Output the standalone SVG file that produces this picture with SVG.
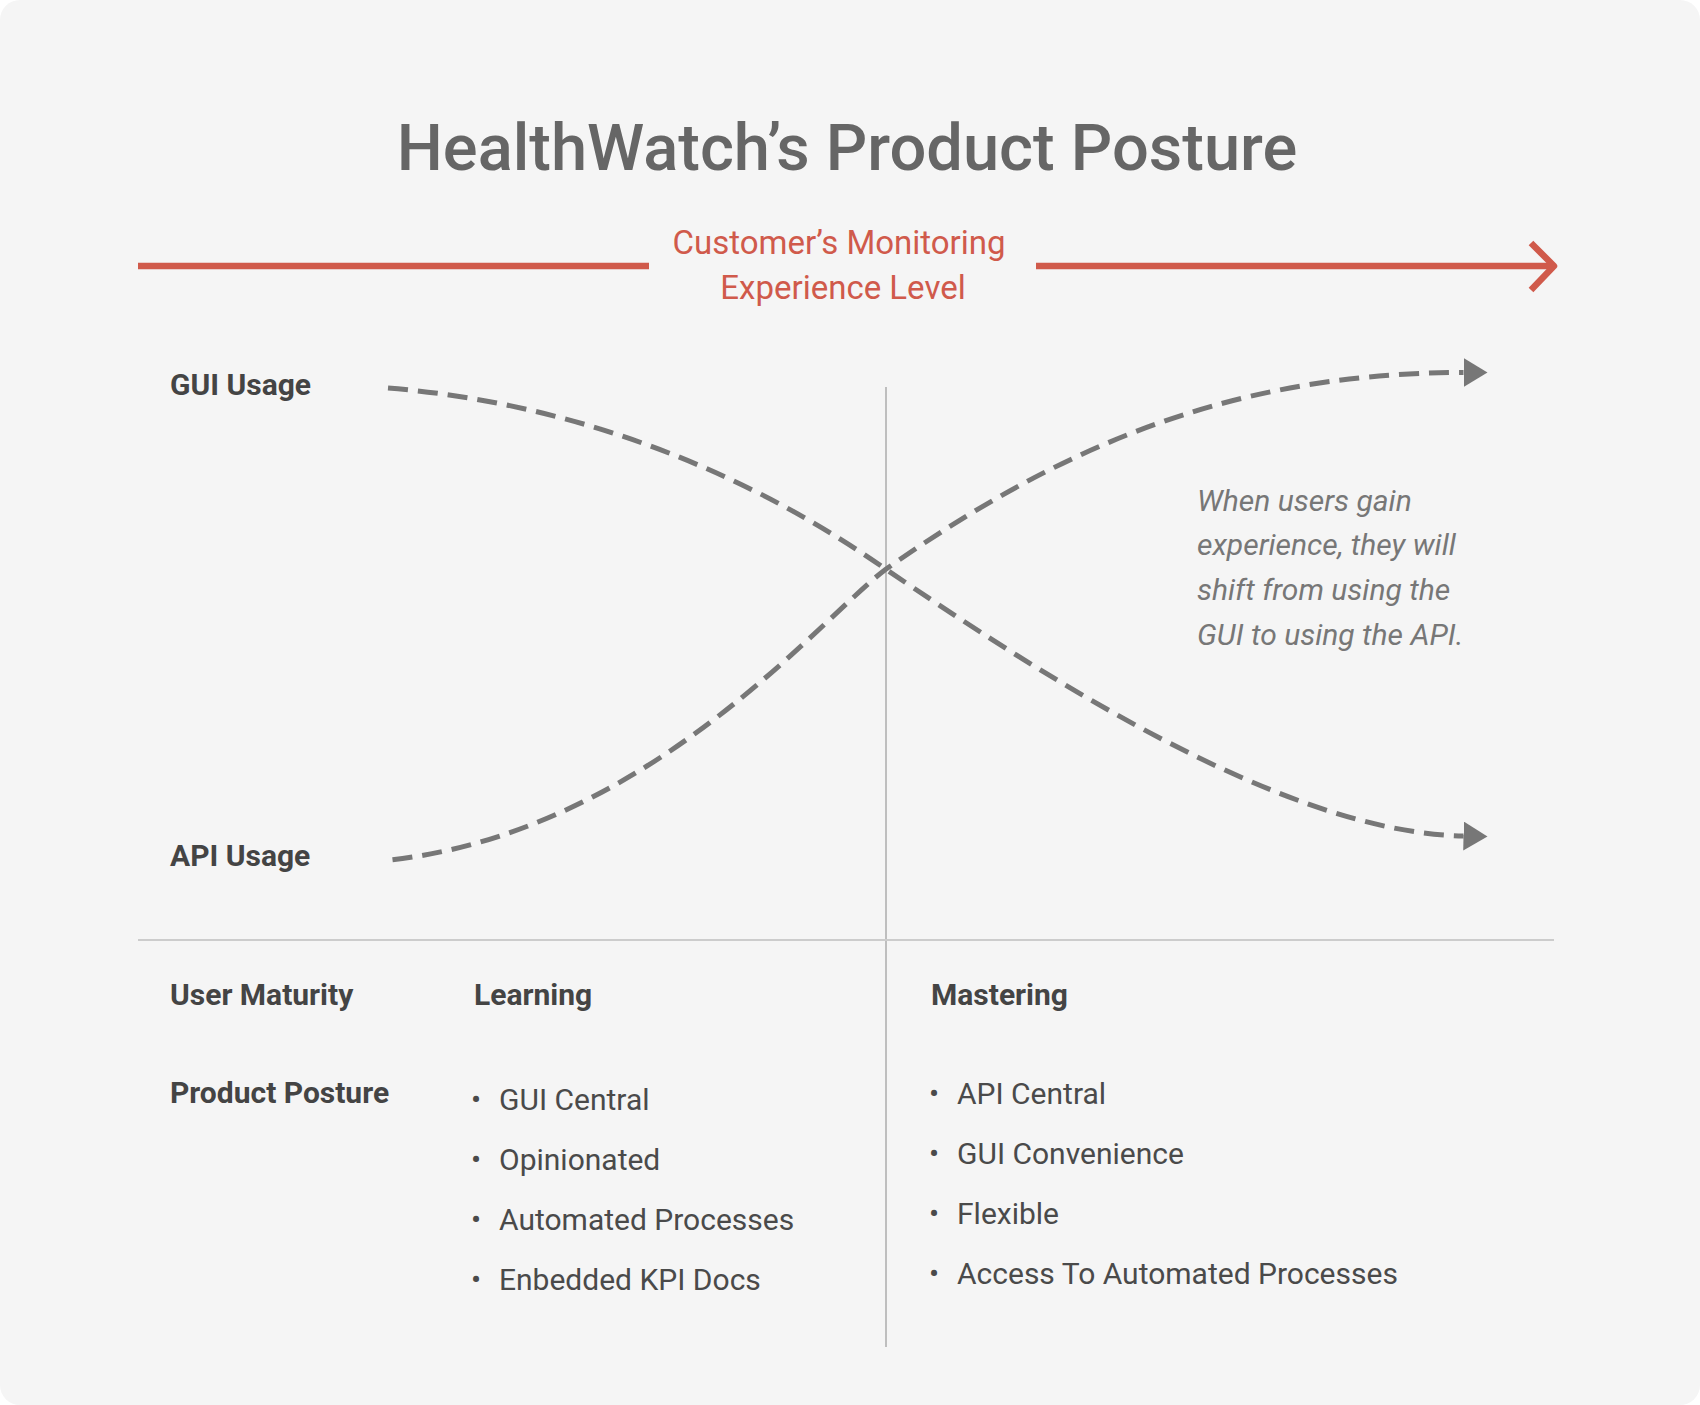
<svg xmlns="http://www.w3.org/2000/svg" width="1700" height="1405" viewBox="0 0 1700 1405">
<defs>
<style>
.title{font-family:Roboto,"Liberation Sans",sans-serif;font-weight:500;font-size:65px;fill:#666;}
.red{font-family:Roboto,"Liberation Sans",sans-serif;font-size:33px;fill:#d05a4b;}
.lbl{font-family:Roboto,"Liberation Sans",sans-serif;font-weight:700;font-size:30px;fill:#444;}
.item{font-family:Roboto,"Liberation Sans",sans-serif;font-size:30px;fill:#4a4a4a;}
.bul{font-family:Roboto,"Liberation Sans",sans-serif;font-size:30px;fill:#4a4a4a;}
.note{font-family:Roboto,"Liberation Sans",sans-serif;font-style:italic;font-size:30px;fill:#777;}
.curve{fill:none;stroke:#777;stroke-width:5;stroke-dasharray:20 10;marker-end:url(#tri);}
.redline{fill:none;stroke:#d05a4b;stroke-width:6.5;stroke-linecap:butt;}
</style>
<marker id="tri" markerUnits="userSpaceOnUse" markerWidth="26" markerHeight="30" refX="0" refY="14.5" orient="auto">
<path d="M0,0 L24,14.5 L0,29 Z" fill="#777"/>
</marker>
</defs>
<rect x="0" y="0" width="1700" height="1405" rx="20" fill="#f5f5f5"/>
<g id="title"><text class="title" x="847" y="170" text-anchor="middle">HealthWatch’s Product Posture</text></g>
<g id="axis">
<line class="redline" x1="138" y1="266" x2="649" y2="266"/>
<line class="redline" x1="1036" y1="266" x2="1553" y2="266"/>
<polyline class="redline" points="1531,243 1554,266 1531,290" stroke-linecap="round" stroke-linejoin="round"/>
<text class="red" x="839" y="254" text-anchor="middle">Customer’s Monitoring</text>
<text class="red" x="843" y="299" text-anchor="middle">Experience Level</text>
</g>
<g id="dividers">
<line x1="886" y1="387" x2="886" y2="1347" stroke="#999" stroke-width="1.2"/>
<line x1="138" y1="940" x2="1554" y2="940" stroke="#ccc" stroke-width="2"/>
</g>
<g id="connectors">
<path id="gui-curve" class="curve" d="M388,388 C574.6,403.3 744.8,470.5 885.8,569.2 C1030,666.8 1279.4,832.7 1463.5,836"/>
<path id="api-curve" class="curve" d="M392.5,859.8 C650.5,829.4 820.7,618 885.8,569.2 C1040.8,460.8 1214.3,372.5 1463.5,372.5"/>
</g>
<g id="gui-usage"><text class="lbl" x="170" y="395">GUI Usage</text></g>
<g id="api-usage"><text class="lbl" x="170" y="866">API Usage</text></g>
<g id="note">
<text class="note" x="1197" y="511">When users gain</text>
<text class="note" x="1197" y="555">experience, they will</text>
<text class="note" x="1197" y="600">shift from using the</text>
<text class="note" x="1197" y="645">GUI to using the API.</text>
</g>
<g id="user-maturity"><text class="lbl" x="170" y="1005">User Maturity</text></g>
<g id="learning"><text class="lbl" x="474" y="1005">Learning</text></g>
<g id="mastering"><text class="lbl" x="931" y="1005">Mastering</text></g>
<g id="product-posture"><text class="lbl" x="170" y="1103">Product Posture</text></g>
<g id="learning-list">
<text class="bul" x="471" y="1110">•</text><text class="item" x="499" y="1110">GUI Central</text>
<text class="bul" x="471" y="1170">•</text><text class="item" x="499" y="1170">Opinionated</text>
<text class="bul" x="471" y="1230">•</text><text class="item" x="499" y="1230">Automated Processes</text>
<text class="bul" x="471" y="1290">•</text><text class="item" x="499" y="1290">Enbedded KPI Docs</text>
</g>
<g id="mastering-list">
<text class="bul" x="929" y="1104">•</text><text class="item" x="957" y="1104">API Central</text>
<text class="bul" x="929" y="1164">•</text><text class="item" x="957" y="1164">GUI Convenience</text>
<text class="bul" x="929" y="1224">•</text><text class="item" x="957" y="1224">Flexible</text>
<text class="bul" x="929" y="1284">•</text><text class="item" x="957" y="1284">Access To Automated Processes</text>
</g>
</svg>
